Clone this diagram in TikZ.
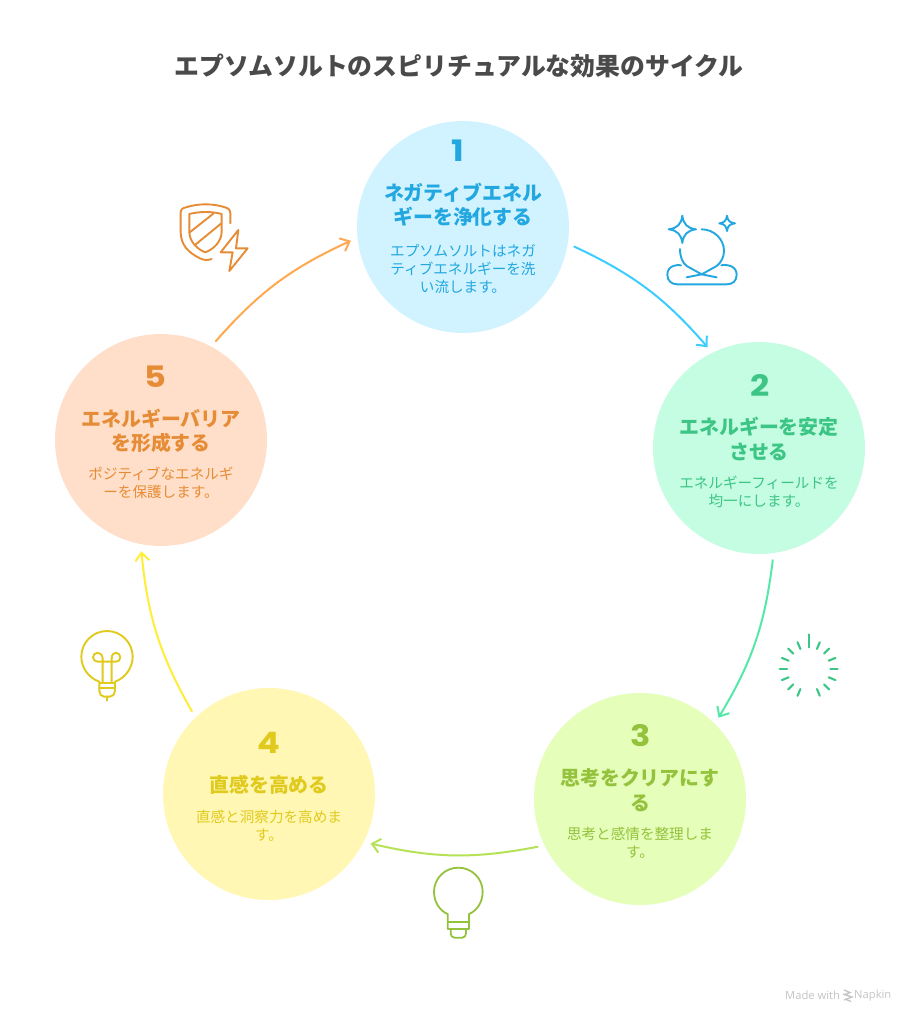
\documentclass[tikz,border=0pt]{standalone}
\usepackage{fontspec}
\setmainfont{Noto Sans CJK JP}
\newfontfamily\numfont[FakeStretch=1.14]{Poppins}
\newfontfamily\markfont{Open Sans}
\usetikzlibrary{arrows.meta}
\definecolor{fillA}{HTML}{D1F3FF}\definecolor{textA}{HTML}{22A7E0}\definecolor{lineA}{HTML}{3CCDFF}
\definecolor{fillB}{HTML}{C5FDE2}\definecolor{textB}{HTML}{3CC585}\definecolor{lineB}{HTML}{55E8A8}
\definecolor{fillC}{HTML}{E5FEB9}\definecolor{textC}{HTML}{94C23C}\definecolor{lineC}{HTML}{B6E258}
\definecolor{fillD}{HTML}{FFF7B3}\definecolor{textD}{HTML}{E0CA1E}\definecolor{lineD}{HTML}{FFEE38}
\definecolor{fillE}{HTML}{FFDFC9}\definecolor{textE}{HTML}{E68C36}\definecolor{lineE}{HTML}{FFA84F}
\definecolor{titlegray}{HTML}{4A4A4A}\definecolor{markgray}{HTML}{C4C4C4}
\tikzset{
  x=1pt,y=-1pt,
  disc/.style={circle,minimum size=212pt,inner sep=0pt,outer sep=7pt},
  numtext/.style={font=\numfont\fontsize{29.5}{30}\selectfont\bfseries,inner sep=0pt},
  headtext/.style={font=\fontsize{19.9}{24.5}\selectfont\bfseries,align=center,inner sep=0pt},
  desctext/.style={font=\fontsize{14.6}{18}\selectfont,align=center,inner sep=0pt},
  flow/.style={line width=2pt,line cap=round,-{Straight Barb[length=8pt,width=14pt,line width=2pt]}},
  icon/.style={line width=1.9pt,line cap=round,line join=round},
  zoomed/.style={x=0.3333pt,y=-0.3333pt},
}
\begin{document}
\begin{tikzpicture}
\useasboundingbox (0,0) rectangle (916,1024);
\fill[white] (0,0) rectangle (916,1024);
\node[inner sep=0pt,text=titlegray,font=\fontsize{24.85}{30}\selectfont\bfseries] (title) at (459,66) {エプソムソルトのスピリチュアルな効果のサイクル};

\node[disc,fill=fillA] (c1) at (463,227) {};
\node[disc,fill=fillB] (c2) at (759,448) {};
\node[disc,fill=fillC] (c3) at (640,799) {};
\node[disc,fill=fillD] (c4) at (269,794) {};
\node[disc,fill=fillE] (c5) at (161,440) {};

\node[numtext,text=textA] (n1) at (457.5,151) {1};
\node[headtext,text=textA] (h1) at (463,204.5) {ネガティブエネル\\ギーを浄化する};
\node[desctext,text=textA] (d1) at (463,269) {エプソムソルトはネガ\\ティブエネルギーを洗\\い流します。};

\node[numtext,text=textB] (n2) at (760,385) {2};
\node[headtext,text=textB] (h2) at (759,439) {エネルギーを安定\\させる};
\node[desctext,text=textB] (d2) at (759,492) {エネルギーフィールドを\\均一にします。};

\node[numtext,text=textC] (n3) at (641,736) {3};
\node[headtext,text=textC] (h3) at (640,790) {思考をクリアにす\\る};
\node[desctext,text=textC] (d3) at (640,843) {思考と感情を整理しま\\す。};

\node[numtext,text=textD] (n4) at (269,743) {4};
\node[headtext,text=textD] (h4) at (269,785) {直感を高める};
\node[desctext,text=textD] (d4) at (269,826) {直感と洞察力を高めま\\す。};

\node[numtext,text=textE] (n5) at (155,377) {5};
\node[headtext,text=textE] (h5) at (161,431) {エネルギーバリア\\を形成する};
\node[desctext,text=textE] (d5) at (161,483) {ポジティブなエネルギ\\ーを保護します。};

\draw[flow,lineA] (c1.-10.7) to[bend left=12] (c2.117);
\draw[flow,lineB] (c2.-83) to[bend left=12] (c3.46.4);
\draw[flow,lineC] (c3.205) to[bend left=12] (c4.-26.8);
\draw[flow,lineD] (c4.133.6) to[bend left=12] (c5.-100);
\draw[flow,lineE] (c5.61.4) to[bend left=12] (c1.187.7);

% shield icon
\begin{scope}[shift={(150,190)},zoomed,icon,textE]
\draw (185,207) .. controls (172,212) and (160,210) .. (150,205) .. controls (115,188) and (92,165) .. (92,125) -- (92,68) .. controls (92,58) and (98,54) .. (108,52) .. controls (145,40) and (190,40) .. (225,52) .. controls (235,54) and (241,60) .. (241,70) -- (241,100);
\draw (118,72) .. controls (150,64) and (185,64) .. (215,72) -- (215,125) .. controls (215,155) and (190,178) .. (166,187) .. controls (142,178) and (118,155) .. (118,125) -- cycle;
\draw (118,128) -- (190,71);
\draw (135,165) -- (214,100);
\draw (265,120) -- (212,187) -- (248,187) -- (238,243) -- (293,175) -- (258,175) -- cycle;
\end{scope}

% meditation icon
\begin{scope}[shift={(650,200)},zoomed,icon,textA]
\draw (97,47) .. controls (100,72) and (112,85) .. (138,88) .. controls (112,91) and (100,104) .. (97,129) .. controls (94,104) and (82,91) .. (56,88) .. controls (82,85) and (94,72) .. (97,47) -- cycle;
\draw (231,47) .. controls (233,62) and (239,68) .. (255,70) .. controls (239,72) and (233,78) .. (231,93) .. controls (229,78) and (223,72) .. (208,70) .. controls (223,68) and (229,62) .. (231,47) -- cycle;
\draw (155,88) .. controls (192,88) and (222,118) .. (222,152) .. controls (222,172) and (213,188) .. (200,198) -- (155,223) -- (110,232);
\draw (90,147) .. controls (90,170) and (97,188) .. (110,198) -- (155,223) -- (200,232);
\draw (93,196) .. controls (85,193) and (52,195) .. (52,224) .. controls (52,243) and (65,253) .. (82,253) -- (230,253) .. controls (248,253) and (260,243) .. (260,224) .. controls (260,195) and (225,193) .. (214,196);
\end{scope}

% burst icon
\begin{scope}[shift={(760,620)},zoomed,icon,textB,line width=2.1pt]
\draw (146,43) -- (146,80);
\foreach \a in {22.5,45,...,337.5} {
  \draw (146,147) ++(90+\a:65) -- ++(90+\a:22);
}
\end{scope}

% green bulb
\begin{scope}[shift={(410,850)},zoomed,icon,textC,line width=1.8pt]
\draw (113,192) .. controls (88,182) and (72,155) .. (72,125) .. controls (72,85) and (105,53) .. (145,53) .. controls (185,53) and (218,85) .. (218,125) .. controls (218,155) and (202,182) .. (177,192) -- (177,237) -- (113,237) -- cycle;
\draw (113,215) -- (177,215);
\draw (122,237) -- (122,250) .. controls (122,256) and (126,263) .. (133,263) -- (157,263) .. controls (164,263) and (168,256) .. (168,250) -- (168,237);
\end{scope}

% yellow bulb
\begin{scope}[shift={(60,610)},zoomed,icon,textD]
\draw (118,215) .. controls (88,205) and (64,175) .. (64,140) .. controls (64,98) and (98,63) .. (141,63) .. controls (184,63) and (218,98) .. (218,140) .. controls (218,175) and (194,205) .. (165,215);
\draw (118,218) -- (165,218);
\draw (118,218) -- (118,243) .. controls (118,252) and (124,260) .. (132,260) -- (150,260) .. controls (158,260) and (165,252) .. (165,243) -- (165,218);
\draw (118,235) -- (165,235);
\draw (141,260) -- (141,272);
\draw (128,218) -- (128,146) .. controls (128,135) and (120,128) .. (113,128) .. controls (105,128) and (99,135) .. (99,142) .. controls (99,150) and (106,155) .. (113,155) -- (168,155) .. controls (175,155) and (181,150) .. (181,142) .. controls (181,135) and (175,128) .. (168,128) .. controls (160,128) and (155,135) .. (155,146) -- (155,218);
\end{scope}

% watermark
\node[inner sep=0pt,anchor=west,text=markgray,font=\markfont\fontsize{11.2}{12}\selectfont] (m1) at (785,995.5) {Made with};
\node[inner sep=0pt,anchor=west,text=markgray,font=\markfont\fontsize{11.2}{12}\selectfont] (m2) at (854,995.5) {Napkin};
\draw[markgray,line width=1.3pt] (844,990) -- (850,992.5) -- (844,995) (843,994) -- (852,997) -- (844,1000) (845,999) -- (851,1001.5);
\end{tikzpicture}
\end{document}
